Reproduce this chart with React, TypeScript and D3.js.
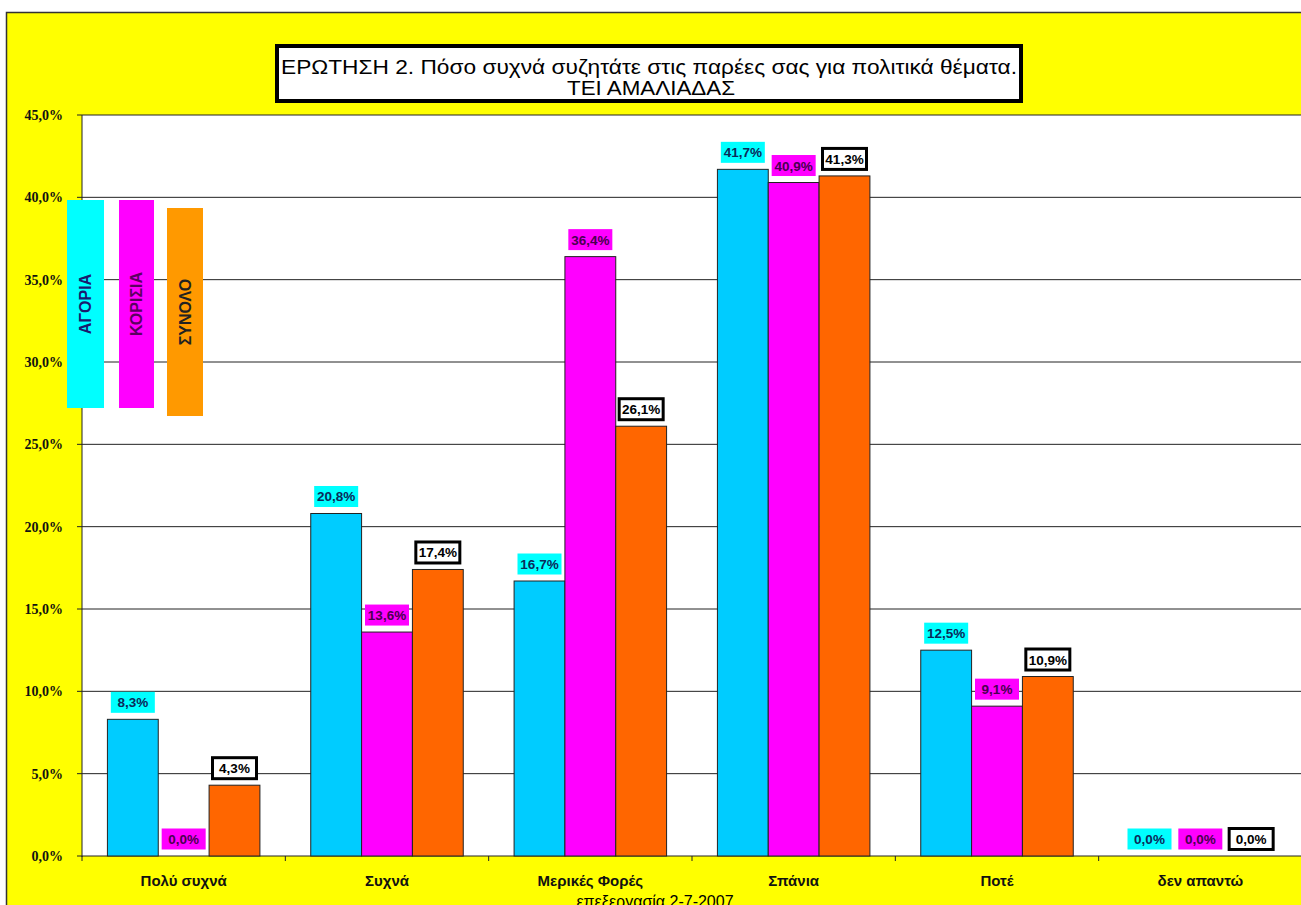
import React from "react";
import * as d3 from "d3";

const categories = ["Πολύ συχνά", "Συχνά", "Μερικές Φορές", "Σπάνια", "Ποτέ", "δεν απαντώ"];
const boys = [8.3, 20.8, 16.7, 41.7, 12.5, 0.0];
const girls = [0.0, 13.6, 36.4, 40.9, 9.1, 0.0];
const total = [4.3, 17.4, 26.1, 41.3, 10.9, 0.0];
const yTicks = [0, 5, 10, 15, 20, 25, 30, 35, 40, 45];
const seriesNames = ["ΑΓΟΡΙΑ", "ΚΟΡΙΣΙΑ", "ΣΥΝΟΛΟ"];
const titleLines = ["ΕΡΩΤΗΣΗ 2. Πόσο συχνά συζητάτε στις παρέες σας για πολιτικά θέματα.", "ΤΕΙ ΑΜΑΛΙΑΔΑΣ"];
const footer = "επεξεργασία 2-7-2007";

const W = 1301, H = 905;
const plotL = 82, plotR = 1302, plotT = 115, plotB = 856;

const series = [
  { values: boys, fill: "#00CCFF", labelBg: "#00FFFF", labelStroke: "none", labelColor: "#0b2a5a" },
  { values: girls, fill: "#FF00FF", labelBg: "#FF00FF", labelStroke: "none", labelColor: "#4a0050" },
  { values: total, fill: "#FF6600", labelBg: "#FFFFFF", labelStroke: "#000", labelColor: "#000" },
];

const legend = [
  { x: 67, y: 200, w: 37, h: 208, fill: "#00FFFF", color: "#1a1a6e" },
  { x: 119, y: 200, w: 35, h: 208, fill: "#FF00FF", color: "#5a0060" },
  { x: 167, y: 208, w: 36, h: 208, fill: "#FF9900", color: "#222" },
];

const fmt = (v: number) => v.toFixed(1).replace(".", ",") + "%";

export default function App() {
  const x = d3.scaleBand<string>().domain(categories).range([plotL, plotR]).padding(0);
  const y = d3.scaleLinear().domain([0, 45]).range([plotB, plotT]);
  const cw = x.bandwidth();
  const bw = cw / 4;
  const sans = "Arial, 'Liberation Sans', sans-serif";

  return (
    <svg width={W} height={H} style={{ position: "absolute", left: 0, top: 0 }} xmlns="http://www.w3.org/2000/svg">
      <rect x={0} y={0} width={W} height={H} fill="#fff" />
      <rect x={6.5} y={12.5} width={1300} height={900} fill="#FFFF00" stroke="#333" strokeWidth={1.5} />
      {/* plot area */}
      <rect x={plotL} y={plotT} width={plotR - plotL} height={plotB - plotT} fill="#fff" />
      {yTicks.map((t) => (
        <g key={t}>
          <line x1={plotL - 5} x2={plotR} y1={y(t)} y2={y(t)} stroke="#222" strokeWidth={1} />
          <text x={63} y={y(t) + 5} textAnchor="end" fontFamily="'Liberation Serif', 'Times New Roman', serif" fontWeight="bold" fontSize={14} fill="#111">
            {fmt(t)}
          </text>
        </g>
      ))}
      <line x1={plotL} x2={plotL} y1={plotT} y2={plotB + 1} stroke="#222" strokeWidth={1} />
      {categories.map((c, i) => (
        <line key={"tk" + i} x1={(x(c) as number)} x2={(x(c) as number)} y1={plotB} y2={plotB + 5} stroke="#222" strokeWidth={1} />
      ))}
      {/* bars */}
      {series.map((s, si) =>
        categories.map((c, ci) => {
          const v = s.values[ci];
          const bx = (x(c) as number) + cw / 8 + si * bw;
          return v > 0 ? (
            <rect key={`b${si}-${ci}`} x={bx} y={y(v)} width={bw} height={plotB - y(v)} fill={s.fill} stroke="#222" strokeWidth={1} />
          ) : null;
        })
      )}
      {/* labels */}
      {series.map((s, si) =>
        categories.map((c, ci) => {
          const v = s.values[ci];
          const cx = (x(c) as number) + cw / 8 + si * bw + bw / 2;
          const cy = y(v) - 17;
          const lw = 44, lh = 21;
          return (
            <g key={`l${si}-${ci}`}>
              <rect x={cx - lw / 2} y={cy - lh / 2} width={lw} height={lh} fill={s.labelBg} stroke={s.labelStroke} strokeWidth={s.labelStroke === "none" ? 0 : 3} />
              <text x={cx} y={cy + 5} textAnchor="middle" fontFamily={sans} fontWeight="bold" fontSize={13.5} fill={s.labelColor}>
                {fmt(v)}
              </text>
            </g>
          );
        })
      )}
      {/* category labels */}
      {categories.map((c) => (
        <text key={"c" + c} x={(x(c) as number) + cw / 2} y={886} textAnchor="middle" fontFamily={sans} fontWeight="bold" fontSize={15} fill="#111">
          {c}
        </text>
      ))}
      {/* legend */}
      {legend.map((l, i) => (
        <g key={"lg" + i}>
          <rect x={l.x} y={l.y} width={l.w} height={l.h} fill={l.fill} />
          <text transform={`translate(${l.x + l.w / 2 + 5.5},${l.y + l.h / 2}) rotate(-90)`} textAnchor="middle" fontFamily={sans} fontWeight="bold" fontSize={16} fill={l.color}>
            {seriesNames[i]}
          </text>
        </g>
      ))}
      {/* title */}
      <rect x={277} y={46} width={744} height={55} fill="#fff" stroke="#000" strokeWidth={4} />
      <text x={649} y={74} textAnchor="middle" fontFamily={sans} fontSize={20} fill="#000" textLength={736} lengthAdjust="spacingAndGlyphs">{titleLines[0]}</text>
      <text x={651} y={95} textAnchor="middle" fontFamily={sans} fontSize={20} fill="#000" textLength={168} lengthAdjust="spacingAndGlyphs">{titleLines[1]}</text>
      <text x={655} y={907} textAnchor="middle" fontFamily={sans} fontSize={16} fill="#000">{footer}</text>
    </svg>
  );
}
